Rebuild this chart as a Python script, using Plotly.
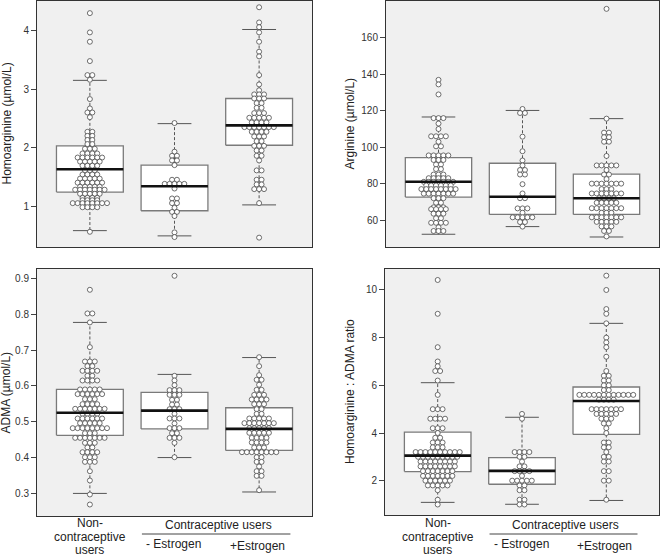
import plotly.graph_objects as go

W, H = 660, 557

groups = ["Non-contraceptive users", "- Estrogen", "+Estrogen"]

# ---------------- Panel 1: Homoarginine (µmol/L) ----------------
ha_g1_v = [4.30, 3.97, 3.81, 3.48, 3.24, 3.16, 2.83, 2.67, 2.60, 2.52, 2.27, 2.20, 2.13, 2.06, 1.98,
           1.90, 1.83, 1.76, 1.69, 1.61, 1.54, 1.47, 1.40, 1.33, 1.28, 1.21, 1.14, 1.10, 1.05, 0.98, 0.56]
ha_g1_n = [1, 1, 1, 1, 2, 1, 1, 1, 2, 1, 2, 2, 2, 2, 3,
           4, 6, 5, 4, 3, 4, 5, 6, 5, 7, 5, 4, 4, 8, 4, 1]
ha_g2_v = [2.42, 1.93, 1.86, 1.78, 1.70, 1.45, 1.38, 1.30, 1.13, 1.05, 0.97, 0.90, 0.83, 0.55, 0.47]
ha_g2_n = [1, 1, 2, 2, 1, 2, 5, 1, 2, 2, 1, 2, 1, 1, 1]
ha_g3_v = [4.40, 4.14, 4.06, 3.97, 3.81, 3.64, 3.56, 3.24, 3.08, 2.98, 2.91, 2.84, 2.76, 2.68, 2.59,
           2.51, 2.43, 2.35, 2.27, 2.19, 2.11, 2.03, 1.95, 1.86, 1.78, 1.61, 1.45, 1.37, 1.29, 1.05, 0.46]
ha_g3_n = [1, 1, 1, 1, 1, 1, 1, 1, 1, 1, 3, 3, 2, 2, 3,
           5, 4, 7, 4, 3, 2, 3, 2, 2, 1, 2, 2, 2, 3, 1, 1]
ha_q1 = [1.24, 0.92, 2.04]
ha_med = [1.63, 1.34, 2.38]
ha_q3 = [2.03, 1.70, 2.84]
ha_lo = [0.58, 0.49, 1.02]
ha_hi = [3.15, 2.41, 4.02]

# ---------------- Panel 2: Arginine (µmol/L) ----------------
ar_g1_v = [137, 134.5, 129, 116, 113, 110, 106, 103, 100.5, 95.5, 93, 90.5, 88, 85, 83, 81, 79, 77,
           74.5, 72, 69.5, 67, 66, 63.5, 61, 58.5, 56, 54]
ar_g1_n = [1, 1, 1, 3, 1, 1, 4, 1, 2, 5, 3, 2, 2, 3, 5, 7, 6, 8,
           7, 3, 2, 3, 4, 3, 2, 4, 1, 3]
ar_g2_v = [121, 118.8, 105.8, 97.8, 92.7, 90, 87.5, 85, 79.7, 74.6, 72, 66.4, 64, 61.5, 58.9, 56.4]
ar_g2_n = [1, 2, 1, 1, 1, 1, 2, 2, 1, 1, 2, 3, 1, 5, 2, 1]
ar_g3_v = [176, 115.7, 108, 105.5, 103, 95.2, 90, 87.5, 85, 82.5, 80, 77, 74.6, 72, 69.5, 66.5, 64,
           61.5, 59, 56.5, 54, 51]
ar_g3_n = [1, 1, 2, 2, 2, 1, 5, 1, 2, 1, 7, 3, 7, 4, 5, 7, 3,
           7, 5, 3, 2, 1]
ar_q1 = [72.6, 63.1, 63.1]
ar_med = [81.0, 72.8, 72.0]
ar_q3 = [94.3, 91.2, 85.2]
ar_lo = [52.2, 56.4, 50.7]
ar_hi = [116.6, 120.2, 115.7]

# ---------------- Panel 3: ADMA (µmol/L) ----------------
ad_g1_v = [0.868, 0.802, 0.777, 0.708, 0.668, 0.655, 0.642, 0.628, 0.615, 0.590, 0.577, 0.563, 0.549,
           0.536, 0.522, 0.509, 0.496, 0.482, 0.468, 0.455, 0.441, 0.428, 0.415, 0.401, 0.388, 0.362,
           0.336, 0.297, 0.269]
ad_g1_n = [1, 2, 1, 1, 3, 2, 4, 2, 4, 5, 6, 3, 4,
           7, 4, 6, 5, 8, 3, 7, 3, 2, 4, 3, 3, 1,
           1, 1, 1]
ad_g2_v = [0.907, 0.628, 0.615, 0.602, 0.588, 0.575, 0.561, 0.548, 0.535, 0.522, 0.509, 0.495, 0.482,
           0.468, 0.455, 0.441, 0.401]
ad_g2_n = [1, 1, 1, 1, 3, 3, 2, 2, 3, 1, 3, 1, 3,
           2, 3, 1, 1]
ad_g3_v = [0.680, 0.655, 0.630, 0.617, 0.603, 0.589, 0.575, 0.562, 0.549, 0.535, 0.522, 0.509, 0.496,
           0.482, 0.469, 0.455, 0.442, 0.428, 0.415, 0.401, 0.388, 0.375, 0.362, 0.349, 0.309]
ad_g3_n = [1, 1, 1, 2, 1, 2, 3, 4, 3, 2, 2, 5, 7,
           5, 5, 4, 4, 3, 8, 2, 2, 1, 2, 2, 1]
ad_q1 = [0.462, 0.480, 0.420]
ad_med = [0.525, 0.531, 0.480]
ad_q3 = [0.590, 0.582, 0.539]
ad_lo = [0.300, 0.400, 0.304]
ad_hi = [0.777, 0.632, 0.679]

# ---------------- Panel 4: Homoarginine : ADMA ratio ----------------
ra_g1_v = [10.42, 9.0, 7.6, 7.0, 6.8, 6.6, 6.2, 5.6, 5.0, 4.6, 4.2, 4.0, 3.8, 3.6, 3.4, 3.2, 3.0,
           2.8, 2.6, 2.4, 2.2, 2.0, 1.8, 1.6, 1.2, 1.0]
ra_g1_n = [1, 1, 1, 1, 1, 2, 1, 1, 3, 4, 3, 1, 2, 3, 3, 10, 9,
           8, 8, 7, 7, 6, 5, 1, 1, 1]
ra_g2_v = [4.8, 4.6, 3.2, 3.0, 2.8, 2.6, 2.4, 2.2, 2.0, 1.8, 1.6, 1.2, 1.0]
ra_g2_n = [1, 1, 4, 2, 1, 2, 4, 1, 5, 2, 2, 2, 2]
ra_g3_v = [10.6, 10.0, 9.2, 9.0, 8.6, 8.0, 7.8, 7.6, 7.2, 6.6, 6.4, 6.2, 6.0, 5.8, 5.6, 5.4, 5.0,
           4.8, 4.6, 4.4, 4.2, 4.0, 3.6, 3.4, 3.2, 3.0, 2.8, 2.4, 2.0, 1.2]
ra_g3_n = [1, 1, 1, 1, 1, 1, 1, 1, 1, 1, 2, 2, 2, 2, 12, 4, 7,
           5, 3, 2, 1, 1, 2, 2, 1, 2, 2, 2, 2, 1]
ra_q1 = [2.38, 1.85, 3.94]
ra_med = [3.05, 2.41, 5.34]
ra_q3 = [4.04, 2.97, 5.93]
ra_lo = [1.09, 1.01, 1.17]
ra_hi = [6.11, 4.66, 8.60]

panels = [
    dict(px_x=(37, 312), px_y=(0, 247), title="Homoarginine (µmol/L)", title_x=7,
         rng=[0.30, 4.51], ticks=[1, 2, 3, 4],
         pts=[(ha_g1_v, ha_g1_n), (ha_g2_v, ha_g2_n), (ha_g3_v, ha_g3_n)],
         stats=(ha_q1, ha_med, ha_q3, ha_lo, ha_hi)),
    dict(px_x=(386, 659), px_y=(0, 247), title="Arginine (µmol/L)", title_x=350,
         rng=[45.2, 180.4], ticks=[60, 80, 100, 120, 140, 160],
         pts=[(ar_g1_v, ar_g1_n), (ar_g2_v, ar_g2_n), (ar_g3_v, ar_g3_n)],
         stats=(ar_q1, ar_med, ar_q3, ar_lo, ar_hi)),
    dict(px_x=(37, 312), px_y=(269, 516), title="ADMA (µmol/L)", title_x=5,
         rng=[0.237, 0.926], ticks=[0.3, 0.4, 0.5, 0.6, 0.7, 0.8, 0.9],
         pts=[(ad_g1_v, ad_g1_n), (ad_g2_v, ad_g2_n), (ad_g3_v, ad_g3_n)],
         stats=(ad_q1, ad_med, ad_q3, ad_lo, ad_hi)),
    dict(px_x=(385, 659), px_y=(269, 515), title="Homoarginine : ADMA ratio", title_x=350,
         rng=[0.56, 10.88], ticks=[2, 4, 6, 8, 10],
         pts=[(ra_g1_v, ra_g1_n), (ra_g2_v, ra_g2_n), (ra_g3_v, ra_g3_n)],
         stats=(ra_q1, ra_med, ra_q3, ra_lo, ra_hi)),
]

XR = [-0.625, 2.625]
BW = 0.395      # half box width (x units)
CW = 0.20       # half cap width
FONT = "Liberation Sans, Arial, sans-serif"

fig = go.Figure()
layout = dict(width=W, height=H, autosize=False, margin=dict(l=0, r=0, t=0, b=0, pad=0),
              paper_bgcolor="white", plot_bgcolor="#f0f0f0", showlegend=False,
              font=dict(family=FONT, color="#222"))
annotations = []
shapes = []

for i, p in enumerate(panels, start=1):
    xa, ya = f"x{i}", f"y{i}"
    xk, yk = ("xaxis" if i == 1 else f"xaxis{i}"), ("yaxis" if i == 1 else f"yaxis{i}")
    x0, x1 = p["px_x"]
    y0, y1 = p["px_y"]
    unit_px = (x1 - x0) / (XR[1] - XR[0])
    dx = 4.9 / unit_px
    layout[xk] = dict(domain=[x0 / W, x1 / W], range=XR, anchor=ya, showticklabels=False,
                      ticks="", showgrid=False, zeroline=False, showline=True, mirror=True,
                      linecolor="#333", linewidth=1, automargin=False)
    layout[yk] = dict(domain=[1 - y1 / H, min(1 - y0 / H, 0.9985)], range=p["rng"], anchor=xa,
                      tickvals=p["ticks"], ticks="outside", ticklen=5, tickcolor="#444",
                      tickfont=dict(size=10, color="#333"), showgrid=False, zeroline=False,
                      showline=True, mirror=True, linecolor="#333", linewidth=1, automargin=False)
    annotations.append(dict(text=p["title"], xref="paper", yref="paper",
                            x=p["title_x"] / W, y=1 - (y0 + y1) / 2 / H, textangle=-90,
                            showarrow=False, font=dict(size=12, color="#222"),
                            xanchor="center", yanchor="middle"))
    q1, med, q3, lo, hi = p["stats"]
    for g in range(3):
        c = g
        # dashed whiskers
        fig.add_trace(go.Scatter(x=[c, c, None, c, c], y=[q3[g], hi[g], None, q1[g], lo[g]],
                                 mode="lines", line=dict(color="#555", width=1, dash="3px,2px"),
                                 xaxis=xa, yaxis=ya, hoverinfo="skip"))
        # caps
        fig.add_trace(go.Scatter(x=[c - CW, c + CW, None, c - CW, c + CW],
                                 y=[hi[g], hi[g], None, lo[g], lo[g]],
                                 mode="lines", line=dict(color="#555", width=1),
                                 xaxis=xa, yaxis=ya, hoverinfo="skip"))
        # box
        fig.add_trace(go.Scatter(x=[c - BW, c + BW, c + BW, c - BW, c - BW],
                                 y=[q1[g], q1[g], q3[g], q3[g], q1[g]],
                                 mode="lines", fill="toself", fillcolor="white",
                                 line=dict(color="#7a7a7a", width=1.3),
                                 xaxis=xa, yaxis=ya, hoverinfo="skip"))
        # swarm points
        vals, cnts = p["pts"][g]
        xs, ys = [], []
        for v, n in zip(vals, cnts):
            for k in range(n):
                xs.append(c + (k - (n - 1) / 2) * dx)
                ys.append(v)
        fig.add_trace(go.Scatter(x=xs, y=ys, mode="markers",
                                 marker=dict(symbol="circle", size=5, color="white",
                                             line=dict(color="#4a4a4a", width=0.8)),
                                 xaxis=xa, yaxis=ya, hoverinfo="skip"))
        # median
        fig.add_trace(go.Scatter(x=[c - BW, c + BW], y=[med[g], med[g]], mode="lines",
                                 line=dict(color="#111", width=2.6),
                                 xaxis=xa, yaxis=ya, hoverinfo="skip"))

# bottom category labels for lower panels
for i in (3, 4):
    xa = f"x{i}"
    for txt, ypx in (("Non-", 523), ("contraceptive", 537), ("users", 550)):
        annotations.append(dict(text=txt, xref=xa, yref="paper", x=0, y=1 - ypx / H,
                                showarrow=False, font=dict(size=12, color="#222"),
                                xanchor="center", yanchor="middle"))
    annotations.append(dict(text="Contraceptive users", xref=xa, yref="paper", x=1.52,
                            y=1 - 525 / H, showarrow=False, font=dict(size=12, color="#222"),
                            xanchor="center", yanchor="middle"))
    annotations.append(dict(text=groups[1], xref=xa, yref="paper", x=0.99, y=1 - 544 / H,
                            showarrow=False, font=dict(size=12, color="#222"),
                            xanchor="center", yanchor="middle"))
    annotations.append(dict(text=groups[2], xref=xa, yref="paper", x=1.98, y=1 - 546 / H,
                            showarrow=False, font=dict(size=12, color="#222"),
                            xanchor="center", yanchor="middle"))
    shapes.append(dict(type="line", xref=xa, yref="paper", x0=0.615, x1=2.37,
                       y0=1 - 534 / H, y1=1 - 534 / H, line=dict(color="#444", width=1)))

layout["annotations"] = annotations
layout["shapes"] = shapes
fig.update_layout(**layout)

post = ("document.documentElement.style.margin='0';document.body.style.margin='0';"
        "document.body.style.padding='0';document.body.style.overflow='hidden';"
        "var gd=document.getElementById('{plot_id}');"
        "Plotly.relayout(gd,{width:660,height:557});")
fig.write_html("out.html", config={"responsive": False, "displayModeBar": False},
               post_script=post)
